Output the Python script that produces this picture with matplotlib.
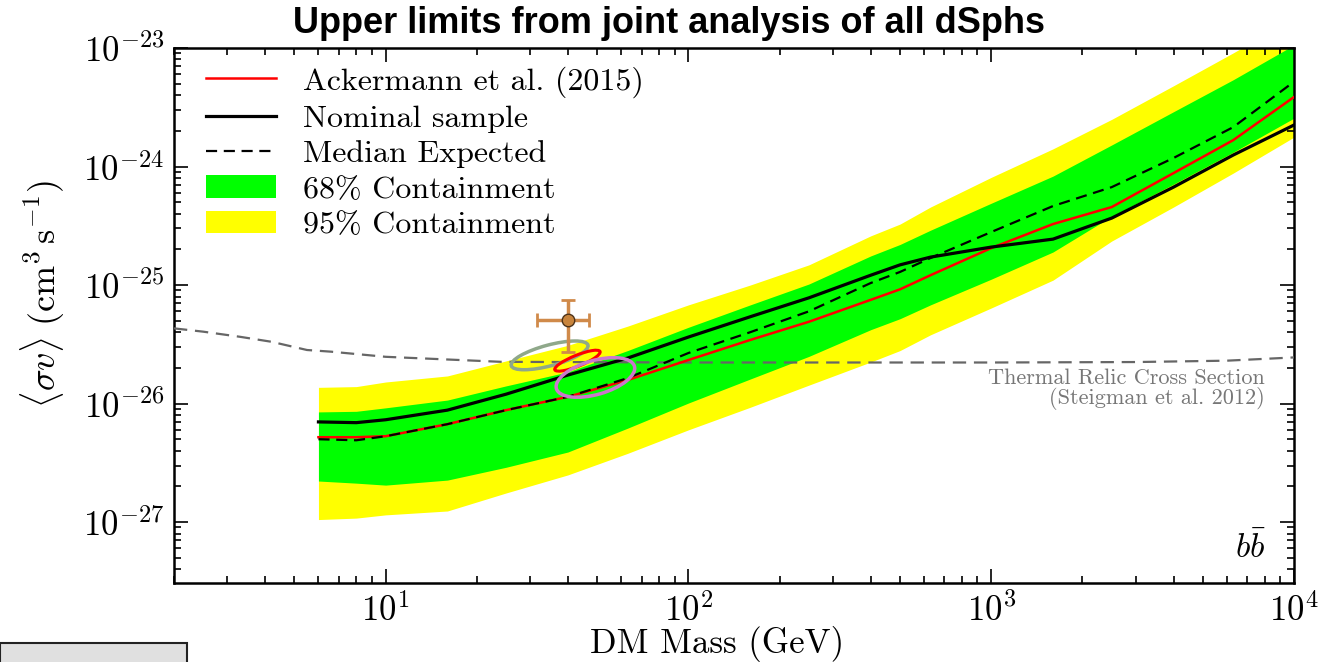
import numpy as np
import matplotlib
matplotlib.use('Agg')
import matplotlib.pyplot as plt
from matplotlib.patches import Ellipse, Rectangle
from matplotlib.transforms import ScaledTranslation

plt.rcParams['font.family'] = 'cmr10'
plt.rcParams['mathtext.fontset'] = 'cm'
plt.rcParams['axes.formatter.use_mathtext'] = True

# --- Data ---
mass = [6, 8, 10, 16, 25, 40, 63, 100, 160, 250, 400, 500, 630,
        1000, 1600, 2500, 4000, 6300, 10000]

nominal = [7.0e-27, 6.9e-27, 7.3e-27, 8.8e-27, 1.20e-26, 1.74e-26, 2.42e-26,
           3.64e-26, 5.4e-26, 7.8e-26, 1.21e-25, 1.48e-25, 1.72e-25,
           2.09e-25, 2.44e-25, 3.67e-25, 6.7e-25, 1.25e-24, 2.24e-24]

ackermann = [5.2e-27, 5.2e-27, 5.3e-27, 6.7e-27, 8.8e-27, 1.14e-26, 1.58e-26,
             2.33e-26, 3.44e-26, 4.9e-26, 7.5e-26, 9.2e-26, 1.21e-25,
             2.05e-25, 3.27e-25, 4.55e-25, 8.8e-25, 1.67e-24, 3.86e-24]

median = [5.0e-27, 4.9e-27, 5.3e-27, 6.7e-27, 8.8e-27, 1.14e-26, 1.64e-26,
          2.67e-26, 4.0e-26, 6.0e-26, 1.04e-25, 1.29e-25, 1.69e-25,
          2.8e-25, 4.64e-25, 6.7e-25, 1.18e-24, 2.15e-24, 5.2e-24]

band68_hi = [8.5e-27, 8.6e-27, 9.2e-27, 1.07e-26, 1.41e-26, 1.85e-26, 2.8e-26,
             4.4e-26, 6.8e-26, 1.02e-25, 1.76e-25, 2.2e-25, 2.9e-25,
             4.9e-25, 8.3e-25, 1.52e-24, 2.9e-24, 5.4e-24, 1.06e-23]
band68_lo = [2.22e-27, 2.13e-27, 2.05e-27, 2.26e-27, 2.9e-27, 3.9e-27, 6.2e-27,
             1.01e-26, 1.61e-26, 2.5e-26, 4.2e-26, 5.2e-26, 6.8e-26,
             1.12e-25, 1.9e-25, 3.8e-25, 7.1e-25, 1.32e-24, 2.56e-24]

band95_hi = [1.37e-26, 1.39e-26, 1.52e-26, 1.71e-26, 2.29e-26, 3.1e-26, 4.5e-26,
             6.8e-26, 1.0e-25, 1.48e-25, 2.6e-25, 3.27e-25, 4.55e-25,
             8.1e-25, 1.41e-24, 2.5e-24, 4.8e-24, 9.1e-24, 1.79e-23]
band95_lo = [1.05e-27, 1.08e-27, 1.15e-27, 1.24e-27, 1.76e-27, 2.5e-27, 3.8e-27,
             6.0e-27, 9.3e-27, 1.43e-26, 2.24e-26, 2.8e-26, 3.8e-26,
             6.4e-26, 1.10e-25, 2.35e-25, 4.55e-25, 8.8e-25, 1.77e-24]

# thermal relic cross section (Steigman et al. 2012)
thermal_mass = [2, 2.5, 3.3, 4.2, 5.5, 6.6, 10, 24, 100, 1000, 3000, 6000, 10000]
thermal_sv = [4.31e-26, 4.04e-26, 3.66e-26, 3.32e-26, 2.83e-26, 2.74e-26, 2.48e-26,
              2.25e-26, 2.22e-26, 2.22e-26, 2.24e-26, 2.30e-26, 2.45e-26]

# GC excess point with errors
gc_mass = 40.1
gc_mass_range = [31.5, 47.1]
gc_sv = 5.07e-26
gc_sv_range = [2.72e-26, 7.47e-26]

# GC excess fit contours: centre mass, centre <sigma v>
contour_mass = [34.8, 43.0, 49.3]
contour_sv = [2.55e-26, 2.30e-26, 1.66e-26]

# --- Figure ---
fig = plt.figure(figsize=(13.23, 6.62), dpi=100)
ax = fig.add_axes([0.1315, 0.1193, 0.8466, 0.8082])

ax.fill_between(mass, band95_lo, band95_hi, color='#ffff00', lw=0,
                label='95% Containment', zorder=1)
ax.fill_between(mass, band68_lo, band68_hi, color='#00ff00', lw=0,
                label='68% Containment', zorder=2)

ax.plot(thermal_mass, thermal_sv, color='#666666', lw=1.6, ls=(0, (6, 3.5)), zorder=3)
ax.plot(mass, ackermann, color='red', lw=1.8, label='Ackermann et al. (2015)', zorder=4)
ax.plot(mass, nominal, color='black', lw=2.3, label='Nominal sample', zorder=5)
ax.plot(mass, median, color='black', lw=1.6, ls=(0, (5, 3)),
        label='Median Expected', zorder=6)

# contours (fixed size on screen, centred at data points)
shapes = [(0.794, 0.208, 15, '#8fa88a', 2.5),
          (0.488, 0.11, 22, 'red', 2.2),
          (0.812, 0.34, 16, '#cc77cc', 2.5)]
for (w, h, ang, col, lw), cm, cs in zip(shapes, contour_mass, contour_sv):
    tr = fig.dpi_scale_trans + ScaledTranslation(cm, cs, ax.transData)
    ax.add_patch(Ellipse((0, 0), w, h, angle=ang, transform=tr, fill=False,
                         edgecolor=col, lw=lw, zorder=7))

ax.errorbar(gc_mass, gc_sv,
            xerr=[[gc_mass - gc_mass_range[0]], [gc_mass_range[1] - gc_mass]],
            yerr=[[gc_sv - gc_sv_range[0]], [gc_sv_range[1] - gc_sv]],
            fmt='o', color='#d08a4a', ecolor='#d08a4a', elinewidth=2.5, capsize=5,
            capthick=2, markersize=9, markerfacecolor='#c8843c',
            markeredgecolor='#4d3319', zorder=8)

# --- Axes ---
ax.set_xscale('log')
ax.set_yscale('log')
ax.set_xlim(2, 1e4)
ax.set_ylim(3.06e-28, 1e-23)

ax.tick_params(which='both', direction='in', top=True, right=True, width=1.2)
ax.tick_params(which='major', length=10, labelsize=25)
ax.tick_params(which='minor', length=5)
ax.tick_params(axis='x', pad=7)
ax.tick_params(axis='y', pad=7)
for s in ax.spines.values():
    s.set_linewidth(1.8)

ax.set_xlabel('DM Mass (GeV)', fontsize=25, va='center')
ax.xaxis.set_label_coords(0.485, -0.114)
ax.set_ylabel(r'$\langle\sigma v\rangle\ (\mathrm{cm^3\,s^{-1}})$', fontsize=26, va='center')
ax.yaxis.set_label_coords(-0.117, 0.54)

ax.text(0.974, 0.362, 'Thermal Relic Cross Section\n(Steigman et al. 2012)',
        transform=ax.transAxes, ha='right', va='center',
        fontsize=16, color='#777777', linespacing=0.95, multialignment='right')
ax.text(0.975, 0.066, r'$b\bar{b}$', transform=ax.transAxes, ha='right',
        va='center', fontsize=24)

handles, labels = ax.get_legend_handles_labels()
order = [2, 3, 4, 1, 0]
ax.legend([handles[i] for i in order], [labels[i] for i in order],
          loc='upper left', bbox_to_anchor=(0.017, 0.99), borderaxespad=0,
          frameon=False, prop={'size': 23},
          handlelength=2.2, handletextpad=0.85, labelspacing=0.22)

fig.text(0.506, 0.965, 'Upper limits from joint analysis of all dSphs',
         ha='center', va='center', fontsize=26, fontweight='bold',
         fontfamily='Liberation Sans')

# grey box at the bottom left edge
fig.patches.append(Rectangle((0, -0.01), 187 / 1323, 0.0387, transform=fig.transFigure,
                             facecolor='#e0e0e0', edgecolor='#222222', lw=1.5))

fig.savefig('out.png', dpi=100)
